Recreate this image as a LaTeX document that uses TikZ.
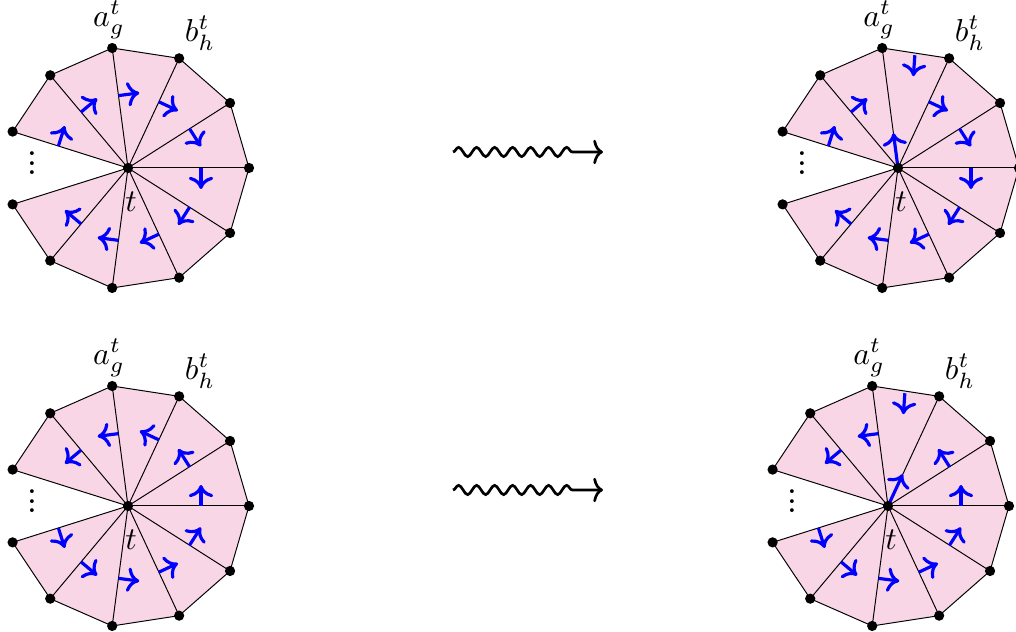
\documentclass[tikz,border=0pt]{standalone}
\usetikzlibrary{arrows.meta,decorations.pathmorphing}
\definecolor{wpink}{RGB}{249,214,230}
\newcommand\drawwheel[5]{% #1 name, #2 center, #3 1=clockwise arrows / 0=counter, #4 modified 0/1, #5 spoke angle of centre arrow
\begin{scope}[shift={#2}]
  \coordinate (#1c) at (0,0);
  \foreach \k in {-5,...,5} { \coordinate (#1v\k) at ({\k*32.5}:121); }
  \foreach \k [evaluate=\k as \kk using int(\k+1)] in {-5,...,4} {
    \fill[wpink] (#1c) -- (#1v\k) -- (#1v\kk) -- cycle;
    \draw[edge] (#1v\k) -- (#1v\kk);
  }
  \foreach \k in {-5,...,5} { \draw[edge] (#1c) -- (#1v\k); }
  \foreach \k in {-5,...,4} {
    \pgfmathtruncatemacro\skip{(#4==1 && \k==2) ? 1 : 0}
    \ifnum\skip=0
      \ifnum#3=1
        \draw[barrow] ({(\k+1)*32.5}:73) -- ++({(\k+1)*32.5-90}:21);
      \else
        \draw[barrow] ({\k*32.5}:73) -- ++({\k*32.5+90}:21);
      \fi
    \fi
  }
  \ifnum#4=1
    \draw[barrow] (81.5:114) -- ++(266:21);
    \coordinate (#1m) at (#5:35);
    \draw[barrow] (#1c) -- (#1m);
  \fi
  \foreach \k in {-5,...,5} { \node[vdot] at (#1v\k) {}; }
  \node[vdot] (#1cd) at (#1c) {};
  \node[lab] (#1a) at (-19,148) {$a_g^t$};
  \node[lab] (#1b) at (72,135) {$b_h^t$};
  \node[lab,inner sep=0pt] (#1t) at (3,-34) {$t$};
  \node[anchor=base,inner sep=0pt,font=\bfseries] (#1dots) at (-96,-7) {$\vdots$};
\end{scope}}
\begin{document}
\begin{tikzpicture}[x=0.41pt,y=0.41pt,
  vdot/.style={circle,fill=black,inner sep=0pt,minimum size=4.2pt},
  lab/.style={scale=1.3},
  edge/.style={line width=0.4pt},
  barrow/.style={blue,line width=1.3pt,-{To[length=5pt,width=10pt]}},
  wave/.style={line width=1.1pt,-{To[length=4pt,width=10pt]},decorate,
    decoration={snake,amplitude=1.9pt,segment length=7.38pt,post length=9.84pt}}]
  \useasboundingbox (0,0) rectangle (1016,632);
  \drawwheel{A}{(128,464)}{1}{0}{97.5}
  \drawwheel{B}{(898,464)}{1}{1}{97.5}
  \drawwheel{C}{(128,126)}{0}{0}{65}
  \drawwheel{D}{(888,126)}{0}{1}{65}
  \coordinate (w1s) at (453,480);
  \coordinate (w1e) at (603,480);
  \coordinate (w2s) at (453,142);
  \coordinate (w2e) at (603,142);
  \draw[wave] (w1s) -- (w1e);
  \draw[wave] (w2s) -- (w2e);
\end{tikzpicture}
\end{document}
